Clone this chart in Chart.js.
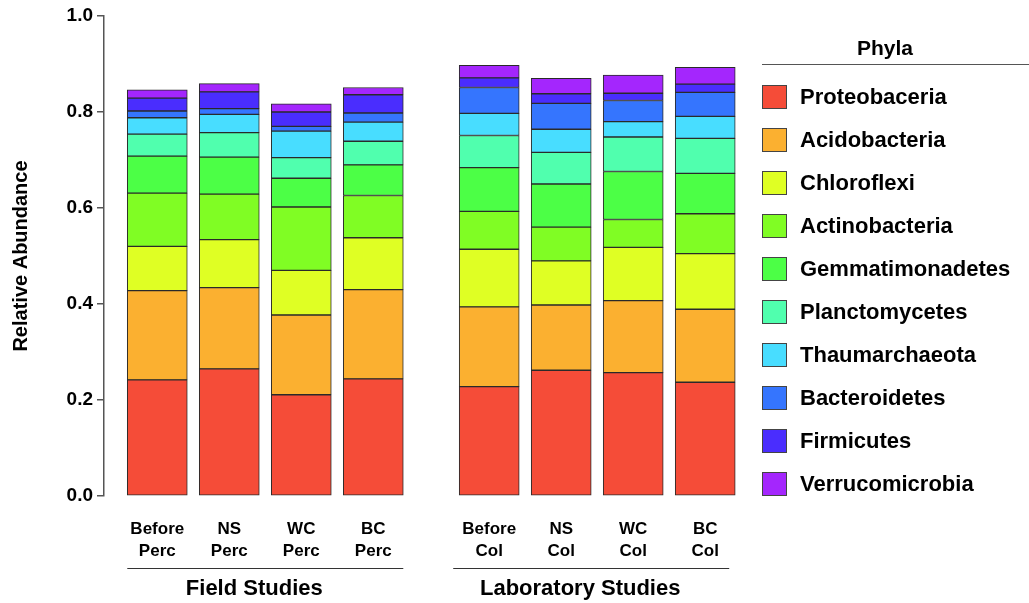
<!DOCTYPE html>
<html>
<head>
<meta charset="utf-8">
<title>Relative Abundance by Phyla</title>
<script src="https://cdn.jsdelivr.net/npm/chart.js@4.4.1/dist/chart.umd.min.js"></script>
<style>
    html, body { margin: 0; padding: 0; background: #fff; }
    body { width: 1029px; height: 603px; position: relative; overflow: hidden;
           font-family: "Liberation Sans", Arial, sans-serif; }
    #chart { position: absolute; left: 0; top: 0; }
    .legend-title { position: absolute; left: 762px; top: 33px; width: 246px; line-height: 30px;
                    text-align: center; font-size: 21px; font-weight: bold; color: #000; }
    .legend-rule { position: absolute; left: 762px; top: 64px; width: 267px; border-top: 1.5px solid #555; }
    #legend { position: absolute; left: 762px; top: 75px; margin: 0; padding: 0; list-style: none; }
    #legend li { display: flex; align-items: center; height: 43px; font-size: 22px; font-weight: bold; color: #000; }
    #legend .box { width: 25px; height: 24px; box-sizing: border-box; border: 1px solid #444; margin-right: 13px; }
</style>
</head>
<body>
<canvas id="chart" width="1029" height="603"></canvas>
<div class="legend-title">Phyla</div>
<div class="legend-rule"></div>
<ul id="legend"></ul>

<script>
// Samples (two-line tick labels) and which study group each belongs to
const categories = [
    ['Before', 'Perc'], ['NS', 'Perc'], ['WC', 'Perc'], ['BC', 'Perc'],
    ['Before', 'Col'], ['NS', 'Col'], ['WC', 'Col'], ['BC', 'Col']
];
const groupOf = [0, 0, 0, 0, 1, 1, 1, 1];
const groups = ['Field Studies', 'Laboratory Studies'];

const yTicks = [0, 0.2, 0.4, 0.6, 0.8, 1.0];

// Relative abundance per phylum (bottom of stack first)
const phyla = ['Proteobaceria', 'Acidobacteria', 'Chloroflexi', 'Actinobacteria', 'Gemmatimonadetes',
               'Planctomycetes', 'Thaumarchaeota', 'Bacteroidetes', 'Firmicutes', 'Verrucomicrobia'];
const proteobaceria    = [0.242, 0.265, 0.211, 0.244, 0.228, 0.262, 0.257, 0.237];
const acidobacteria    = [0.186, 0.169, 0.166, 0.186, 0.166, 0.136, 0.150, 0.152];
const chloroflexi      = [0.092, 0.100, 0.093, 0.108, 0.120, 0.092, 0.111, 0.116];
const actinobacteria   = [0.111, 0.095, 0.132, 0.088, 0.079, 0.070, 0.058, 0.083];
const gemmatimonadetes = [0.077, 0.077, 0.060, 0.064, 0.091, 0.090, 0.100, 0.084];
const planctomycetes   = [0.046, 0.051, 0.043, 0.049, 0.067, 0.066, 0.072, 0.073];
const thaumarchaeota   = [0.034, 0.038, 0.055, 0.040, 0.046, 0.048, 0.032, 0.046];
const bacteroidetes    = [0.014, 0.012, 0.010, 0.019, 0.054, 0.054, 0.044, 0.050];
const firmicutes       = [0.027, 0.035, 0.030, 0.038, 0.020, 0.020, 0.015, 0.017];
const verrucomicrobia  = [0.017, 0.017, 0.017, 0.015, 0.026, 0.032, 0.038, 0.035];

const series = [proteobaceria, acidobacteria, chloroflexi, actinobacteria, gemmatimonadetes,
                planctomycetes, thaumarchaeota, bacteroidetes, firmicutes, verrucomicrobia];
const colors = ['#F54C38', '#FBB030', '#DFFF24', '#80FD24', '#4CFF46',
                '#50FFAE', '#48DDFF', '#3575FE', '#4A2DFE', '#A426FD'];

// bars sit on a linear axis so the two study groups can have a gap between them
const GROUP_GAP = 0.61;
const xPositions = categories.map((c, i) => i + groupOf[i] * GROUP_GAP);

Chart.defaults.font.family = '"Liberation Sans", Arial, sans-serif';
Chart.defaults.color = '#000';

// underline + name under each study group
const groupLabels = {
    id: 'groupLabels',
    afterDraw(chart) {
        const ctx = chart.ctx;
        const x = chart.scales.x;
        const half = 30;
        ctx.save();
        groups.forEach((name, g) => {
            const pos = xPositions.filter((p, i) => groupOf[i] === g);
            const left = x.getPixelForValue(pos[0]) - half - (g ? 6 : 0);
            const right = x.getPixelForValue(pos[pos.length - 1]) + half - (g ? 6 : 0);
            ctx.strokeStyle = '#333';
            ctx.lineWidth = 1.2;
            ctx.beginPath();
            ctx.moveTo(left, 568.5);
            ctx.lineTo(right, 568.5);
            ctx.stroke();
            // text sits a little left of the rule's centre in the original
            ctx.fillStyle = '#000';
            ctx.font = 'bold 22px "Liberation Sans", Arial, sans-serif';
            ctx.textAlign = 'center';
            ctx.textBaseline = 'middle';
            ctx.fillText(name, (left + right) / 2 - 11, 589);
        });
        ctx.restore();
    }
};

const chart = new Chart(document.getElementById('chart'), {
    type: 'bar',
    data: {
        datasets: series.map((values, k) => ({
            label: phyla[k],
            data: values.map((v, i) => ({ x: xPositions[i], y: v })),
            backgroundColor: colors[k],
            borderColor: '#2a2a2a',
            borderWidth: 1,
            borderSkipped: false,
            barThickness: 60
        }))
    },
    options: {
        responsive: false,
        animation: false,
        layout: { padding: { left: 0, top: 16, right: 279, bottom: 0 } },
        plugins: {
            legend: { display: false },
            tooltip: { enabled: false }
        },
        scales: {
            x: {
                type: 'linear',
                stacked: true,
                offset: false,
                min: -0.74,
                max: 8.232,
                grid: { display: false, drawTicks: false },
                border: { display: false },
                afterBuildTicks: scale => {
                    scale.ticks = xPositions.map(v => ({ value: v }));
                },
                afterFit: scale => {
                    scale.height = 107;
                },
                ticks: {
                    autoSkip: false,
                    maxRotation: 0,
                    padding: 22,
                    font: { size: 17, weight: 'bold', lineHeight: 1.3 },
                    callback: (value, index) => categories[index]
                }
            },
            y: {
                stacked: true,
                min: 0,
                max: 1,
                afterBuildTicks: scale => {
                    scale.ticks = yTicks.map(v => ({ value: v }));
                },
                afterFit: scale => {
                    scale.width = 104;
                },
                grid: { drawOnChartArea: false, tickLength: 7, color: '#555', lineWidth: 1.5 },
                border: { color: '#555', width: 1.5 },
                ticks: {
                    padding: 4,
                    font: { size: 19, weight: 'bold' },
                    callback: value => value.toFixed(1)
                },
                title: {
                    display: true,
                    text: 'Relative Abundance',
                    font: { size: 20, weight: 'bold' },
                    padding: { top: 9, bottom: 0 }
                }
            }
        }
    },
    plugins: [groupLabels]
});

// html legend, same order as the stack (bottom first)
const legendEl = document.getElementById('legend');
chart.data.datasets.forEach(ds => {
    const li = document.createElement('li');
    li.innerHTML = `<span class="box" style="background:${ds.backgroundColor}"></span>${ds.label}`;
    legendEl.appendChild(li);
});
</script>
</body>
</html>
